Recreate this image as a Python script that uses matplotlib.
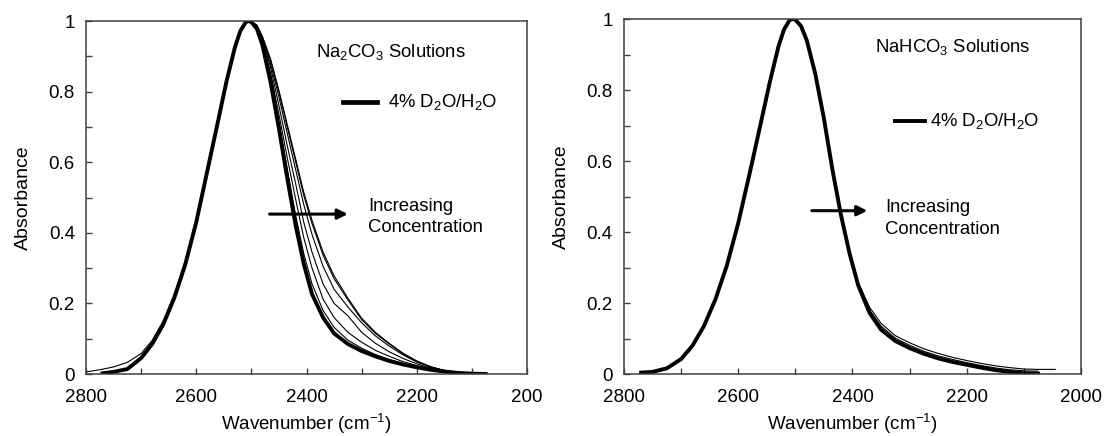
import numpy as np
import matplotlib
matplotlib.use("Agg")
import matplotlib.pyplot as plt
from matplotlib.ticker import MultipleLocator, FixedLocator

plt.rcParams["font.family"] = ["Liberation Sans", "DejaVu Sans"]
plt.rcParams["mathtext.fontset"] = "custom"
plt.rcParams["mathtext.rm"] = "Liberation Sans"
plt.rcParams["mathtext.it"] = "Liberation Sans:italic"

# shared wavenumber grids (cm-1)
wn_rise = [2770, 2750, 2725, 2700, 2680, 2660, 2640, 2620, 2600, 2580,
           2560, 2545, 2530, 2520, 2510, 2505]
wn_fall = [2500, 2490, 2480, 2465, 2450, 2435, 2420, 2405, 2390, 2370,
           2350, 2325, 2300, 2275, 2250, 2225, 2200, 2175, 2150, 2125,
           2100, 2075]

# ---- Na2CO3 panel ----
carb_rise = [0.002, 0.006, 0.014, 0.045, 0.085, 0.14, 0.215, 0.31, 0.43, 0.575,
             0.72, 0.83, 0.925, 0.972, 0.997, 1.0]
carb_outer_wn = [2800, 2775, 2750, 2725, 2700, 2680, 2660, 2640, 2620, 2600,
                 2580, 2560, 2545, 2530, 2520, 2510, 2505]
carb_outer_rise = [0.006, 0.012, 0.02, 0.033, 0.058, 0.095, 0.15, 0.225, 0.32,
                   0.44, 0.58, 0.725, 0.835, 0.928, 0.973, 0.997, 1.0]

carb_ref = [0.997, 0.978, 0.932, 0.825, 0.695, 0.555, 0.423, 0.312, 0.226, 0.16,
            0.115, 0.085, 0.065, 0.05, 0.037, 0.027, 0.019, 0.012, 0.007,
            0.003, 0.001, 0.0]
carb_c1 = [0.997, 0.98, 0.936, 0.838, 0.713, 0.582, 0.452, 0.341, 0.255, 0.18,
           0.132, 0.096, 0.073, 0.055, 0.041, 0.029, 0.02, 0.012, 0.007, 0.003,
           0.001, 0.0]
carb_c2 = [0.998, 0.982, 0.941, 0.852, 0.735, 0.613, 0.497, 0.386, 0.30, 0.212,
           0.16, 0.118, 0.09, 0.067, 0.05, 0.035, 0.024, 0.015, 0.008,
           0.003, 0.001, 0.0]
carb_c3 = [0.998, 0.984, 0.947, 0.867, 0.76, 0.647, 0.541, 0.43, 0.345, 0.255,
           0.2, 0.165, 0.118, 0.087, 0.063, 0.044, 0.029, 0.017, 0.009,
           0.004, 0.001, 0.0]
carb_c4 = [0.998, 0.986, 0.952, 0.878, 0.784, 0.682, 0.581, 0.48, 0.395, 0.305,
           0.24, 0.19, 0.145, 0.108, 0.079, 0.054, 0.034, 0.019, 0.01,
           0.004, 0.002, 0.001]
carb_c5 = [0.998, 0.988, 0.956, 0.891, 0.803, 0.707, 0.611, 0.515, 0.435, 0.345,
           0.278, 0.215, 0.158, 0.118, 0.087, 0.059, 0.037, 0.021, 0.01, 0.004,
           0.002, 0.001]
carb_c6 = [0.998, 0.988, 0.955, 0.888, 0.798, 0.7, 0.603, 0.506, 0.426, 0.337,
           0.27, 0.21, 0.154, 0.115, 0.085, 0.057, 0.036, 0.02, 0.01, 0.004,
           0.002, 0.001]

# ---- NaHCO3 panel ----
bic_rise = [0.004, 0.006, 0.016, 0.042, 0.08, 0.135, 0.21, 0.305, 0.425, 0.565,
            0.71, 0.82, 0.92, 0.97, 0.997, 1.0]
bic_ref = [0.998, 0.98, 0.94, 0.845, 0.72, 0.575, 0.447, 0.339, 0.25, 0.172,
           0.125, 0.093, 0.073, 0.057, 0.044, 0.034, 0.026, 0.018, 0.011,
           0.006, 0.002, 0.001]
bic_t1 = [0.998, 0.98, 0.94, 0.845, 0.72, 0.575, 0.447, 0.342, 0.258, 0.188,
          0.143, 0.108, 0.088, 0.071, 0.058, 0.047, 0.038, 0.03, 0.023, 0.018,
          0.014, 0.013]
bic_t2 = [0.998, 0.98, 0.94, 0.845, 0.72, 0.575, 0.447, 0.34, 0.253, 0.18,
          0.135, 0.101, 0.081, 0.064, 0.051, 0.041, 0.032, 0.024, 0.017, 0.012,
          0.009, 0.008]
bic_tail_wn = [2045]
bic_t1_tail = [0.013]

fig = plt.figure(figsize=(11.04, 4.36), dpi=100)
ax1 = fig.add_axes([0.0779, 0.1422, 0.3995, 0.8096])
ax2 = fig.add_axes([0.5652, 0.1422, 0.4139, 0.8142])

wn_rise = np.array(wn_rise)
wn_fall = np.array(wn_fall)
full_wn = np.concatenate([wn_rise, wn_fall])
thin = dict(color="black", lw=0.8, solid_joinstyle="round")
thick = dict(color="black", lw=2.8, solid_joinstyle="round")

# Na2CO3 curves
for ys in [carb_c1, carb_c2, carb_c3, carb_c4, carb_c6]:
    ax1.plot(full_wn, np.concatenate([carb_rise, ys]), **thin)
ax1.plot(np.concatenate([carb_outer_wn, wn_fall]),
         np.concatenate([carb_outer_rise, carb_c5]), **thin)
ax1.plot(full_wn, np.concatenate([carb_rise, carb_ref]), **thick)

# NaHCO3 curves
ax2.plot(np.concatenate([full_wn, bic_tail_wn]),
         np.concatenate([bic_rise, bic_t1, bic_t1_tail]), **thin)
ax2.plot(full_wn, np.concatenate([bic_rise, bic_t2]), **thin)
ax2.plot(full_wn, np.concatenate([bic_rise, bic_ref]), **thick)

x_major = [2800, 2600, 2400, 2200, 2000]
y_major = [0, 0.2, 0.4, 0.6, 0.8, 1.0]
y_labels = ["0", "0.2", "0.4", "0.6", "0.8", "1"]

for ax, xlabels in [(ax1, ["2800", "2600", "2400", "2200", "200"]),
                    (ax2, ["2800", "2600", "2400", "2200", "2000"])]:
    ax.set_xlim(2800, 2000)
    ax.set_ylim(0, 1)
    ax.xaxis.set_major_locator(FixedLocator(x_major))
    ax.set_xticklabels(xlabels)
    ax.xaxis.set_minor_locator(MultipleLocator(100))
    ax.yaxis.set_major_locator(FixedLocator(y_major))
    ax.set_yticklabels(y_labels)
    ax.yaxis.set_minor_locator(MultipleLocator(0.1))
    ax.tick_params(which="both", direction="in", length=4, width=1,
                   color="#404040", labelsize=13.5, pad=8)
    ax.tick_params(axis="x", which="both", pad=11)
    for s in ax.spines.values():
        s.set_color("#404040")
        s.set_linewidth(1.1)
    ax.set_ylabel("Absorbance", fontsize=14, labelpad=12)
    ax.set_xlabel(r"Wavenumber (cm$^{\mathregular{-1}}$)", fontsize=13.5,
                  labelpad=4)

# annotations, left
ax1.text(2383, 0.912, r"Na$_{\mathregular{2}}$CO$_{\mathregular{3}}$ Solutions",
         fontsize=13.3, va="center", ha="left")
ax1.plot([2334, 2272], [0.77, 0.77], color="black", lw=3.4)
ax1.text(2252, 0.77, r"4% D$_{\mathregular{2}}$O/H$_{\mathregular{2}}$O",
         fontsize=13.3, va="center", ha="left")
ax1.annotate("", xy=(2320, 0.453), xytext=(2472, 0.453),
             arrowprops=dict(arrowstyle="-|>", lw=2.2, color="black",
                             mutation_scale=15))
ax1.text(2288, 0.475, "Increasing", fontsize=13.3, va="center", ha="left")
ax1.text(2288, 0.414, "Concentration", fontsize=13.3, va="center", ha="left")

# annotations, right
ax2.text(2360, 0.92, r"NaHCO$_{\mathregular{3}}$ Solutions",
         fontsize=13.3, va="center", ha="left")
ax2.plot([2325, 2273], [0.713, 0.713], color="black", lw=2.8)
ax2.text(2264, 0.713, r"4% D$_{\mathregular{2}}$O/H$_{\mathregular{2}}$O",
         fontsize=13.3, va="center", ha="left")
ax2.annotate("", xy=(2369, 0.46), xytext=(2476, 0.46),
             arrowprops=dict(arrowstyle="-|>", lw=2.2, color="black",
                             mutation_scale=15))
ax2.text(2343, 0.469, "Increasing", fontsize=13.3, va="center", ha="left")
ax2.text(2343, 0.406, "Concentration", fontsize=13.3, va="center", ha="left")

fig.savefig("out.png", dpi=100)
